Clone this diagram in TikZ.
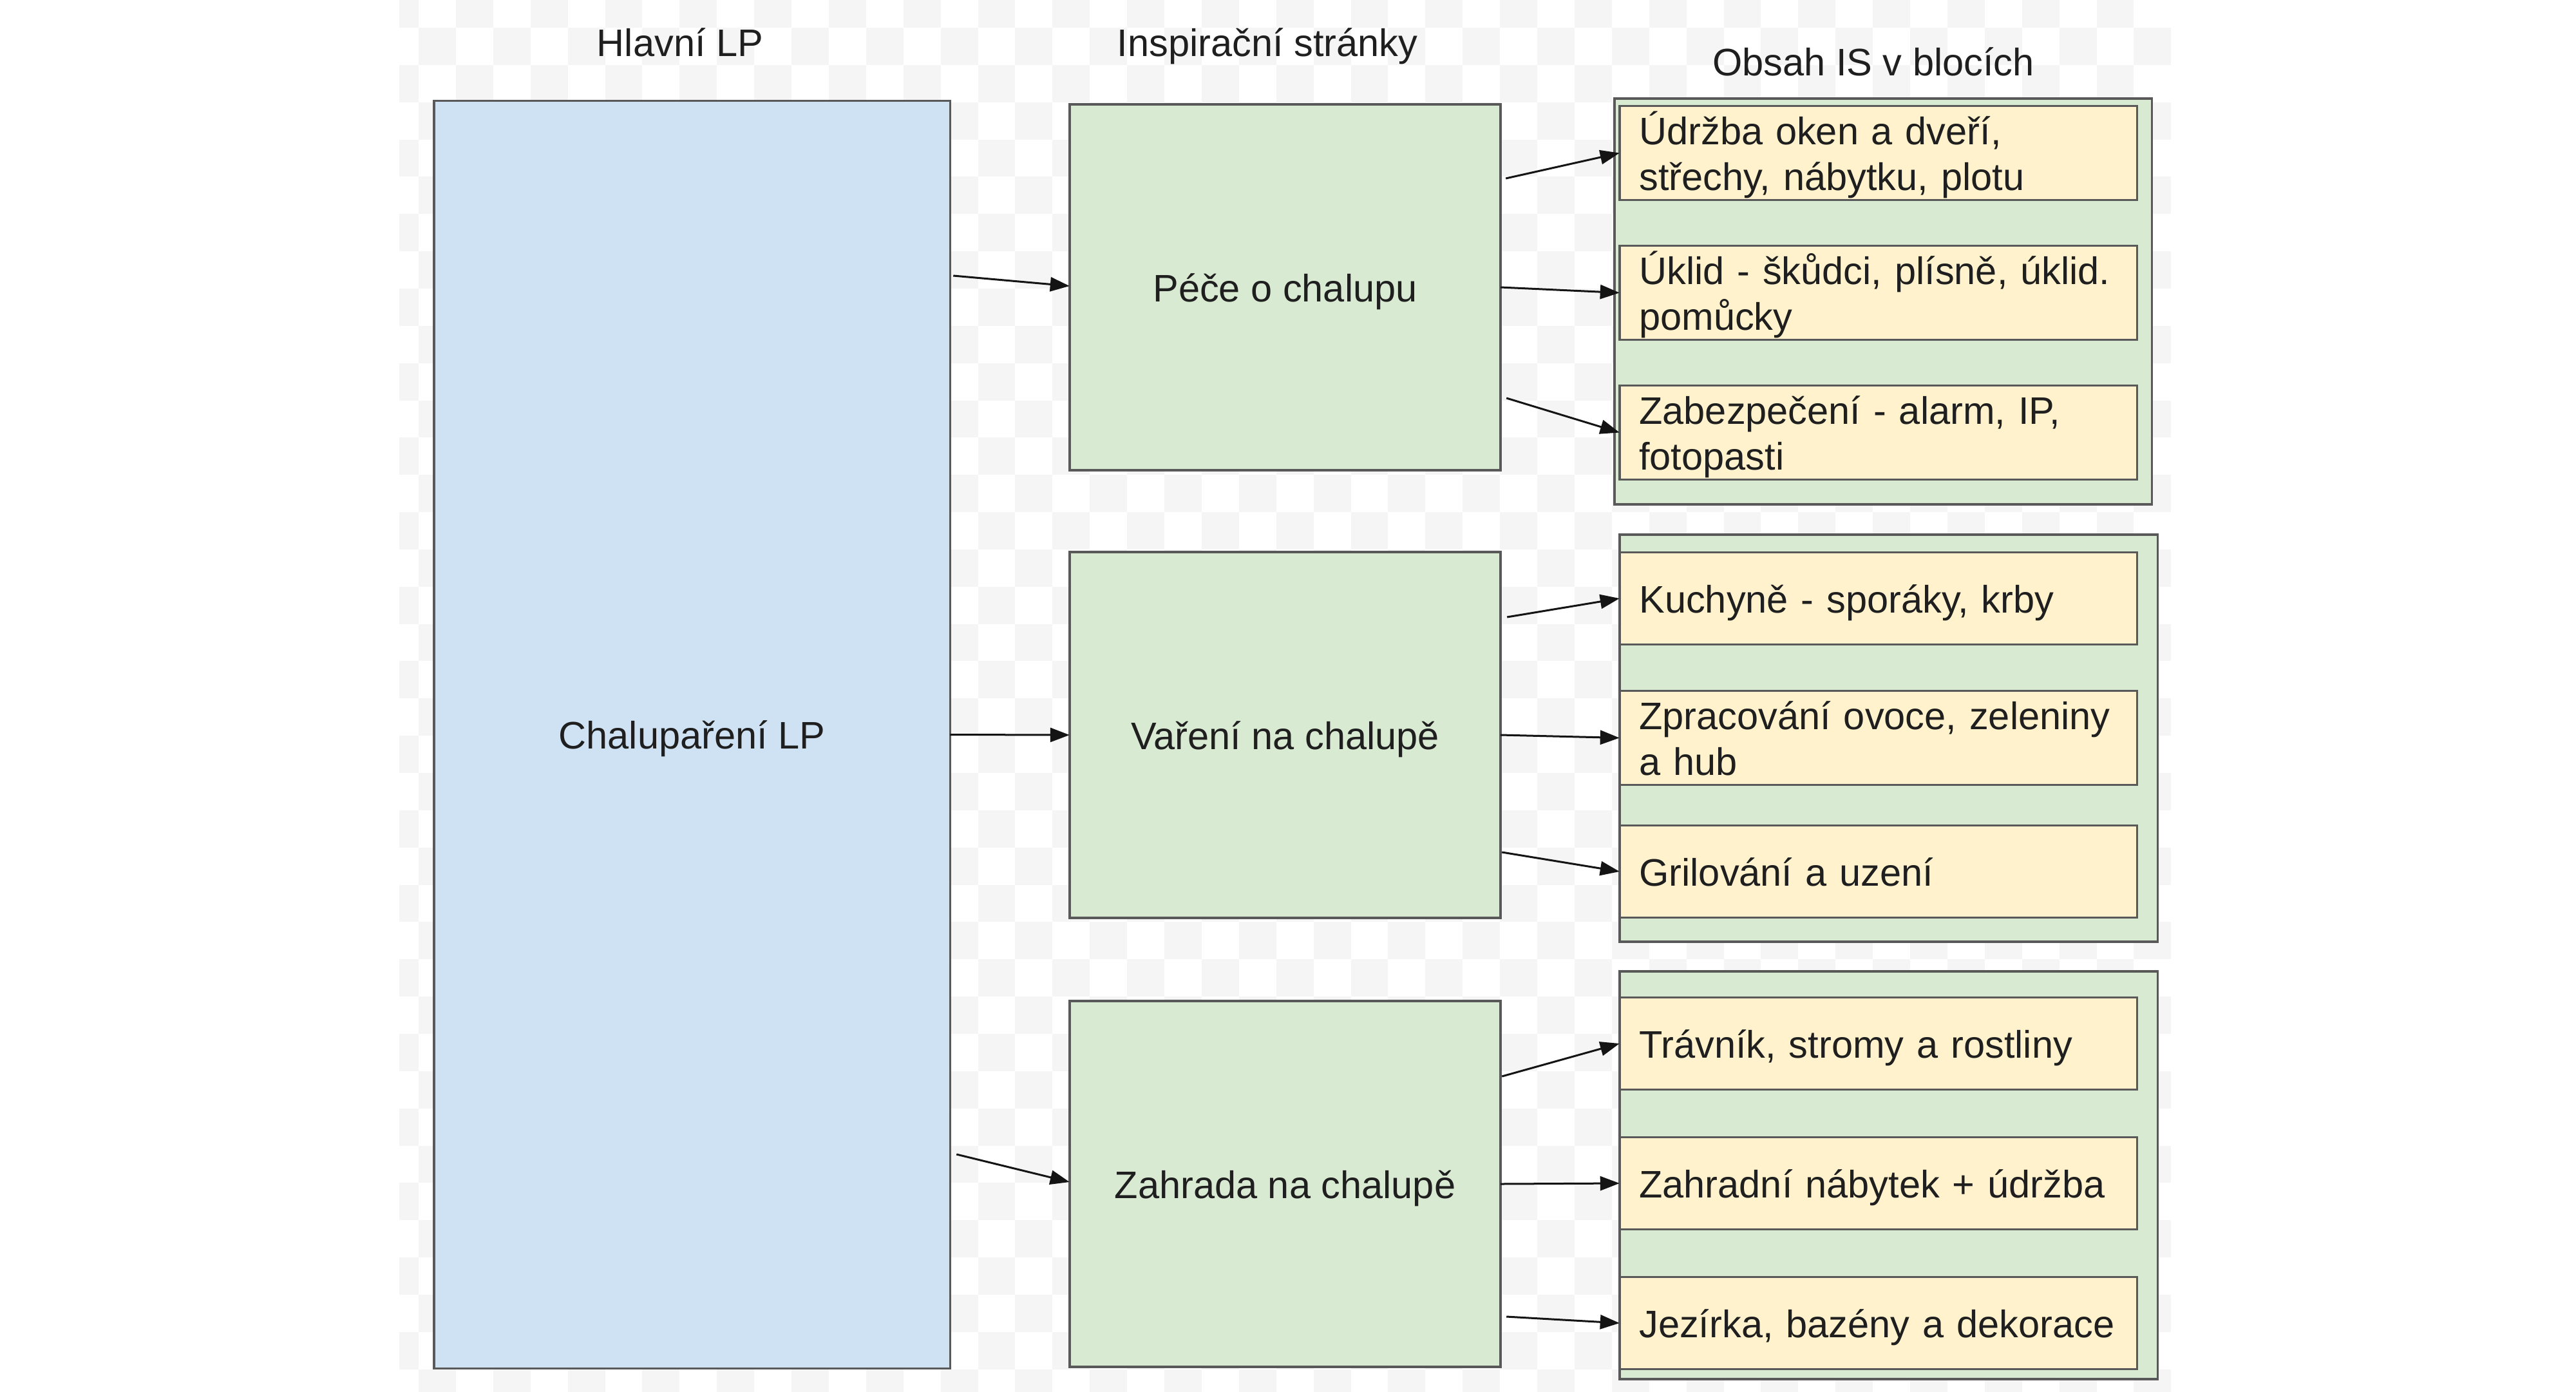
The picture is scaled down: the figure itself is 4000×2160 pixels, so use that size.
\documentclass[tikz,border=0pt]{standalone}
\usepackage{fontspec}
\setmainfont{Liberation Sans}
\usetikzlibrary{arrows.meta}
\definecolor{bluefill}{HTML}{CFE2F3}
\definecolor{greenfill}{HTML}{D9EAD3}
\definecolor{yellowfill}{HTML}{FFF2CC}
\definecolor{edgecol}{HTML}{595959}
\definecolor{chk}{HTML}{F5F5F5}
\definecolor{txt}{HTML}{1F1F1F}
\definecolor{arrcol}{HTML}{141414}
\begin{document}
\begin{tikzpicture}[x=0.01cm,y=-0.01cm,
  box/.style={draw=edgecol, line width=0.035cm, rectangle, inner sep=0pt, outer sep=0pt,
    font=\fontsize{16.93}{20.2}\selectfont, text=txt, text height=0.595cm, text depth=0.149cm},
  bigbox/.style={box, fill=bluefill, minimum width=8.01cm, minimum height=19.67cm},
  midbox/.style={box, fill=greenfill, minimum width=6.69cm, minimum height=5.68cm},
  groupbox/.style={box, fill=greenfill, minimum width=8.35cm, minimum height=6.32cm},
  itembox/.style={box, fill=yellowfill, minimum width=8.03cm, minimum height=1.43cm,
    text width=7.42cm, align=left},
  twoline/.style={text depth=0.86cm},
  coltitle/.style={anchor=base, inner sep=0pt, font=\fontsize{16.93}{20.2}\selectfont, text=txt},
  arr/.style={draw=arrcol, line width=0.03cm, -{Triangle[length=0.3cm,width=0.22cm]}}]

\useasboundingbox (0,0) rectangle (4000,2160);
\fill[white] (0,0) rectangle (4000,2160);

% faint checker background
\begin{scope}
  \clip (620,0) rectangle (3371,2160);
  \foreach \k in {-1,...,46}{
    \foreach \j in {-1,...,37}{
      \pgfmathtruncatemacro{\chkpar}{mod(\k+\j+2,2)}
      \ifnum\chkpar=0
        \fill[chk] ({650+57.9*\k},{43+57.85*\j}) rectangle ++(57.9,57.85);
      \fi
    }
  }
\end{scope}

% column titles
\node[coltitle] (t1) at (1056,87) {Hlavní LP};
\node[coltitle] (t2) at (1968,87) {Inspirační stránky};
\node[coltitle] (t3) at (2909,117) {Obsah IS v blocích};

% main box
\node[bigbox] (lp) at (1074.5,1140.5) {Chalupaření LP};

% middle boxes
\node[midbox] (g1) at (1995.5,446) {Péče o chalupu};
\node[midbox] (g2) at (1995.5,1141) {Vaření na chalupě};
\node[midbox] (g3) at (1995.5,1838) {Zahrada na chalupě};

% group containers
\node[groupbox, minimum width=8.34cm, minimum height=6.30cm] (c1) at (2924,468) {};
\node[groupbox] (c2) at (2932.5,1146) {};
\node[groupbox, minimum height=6.33cm] (c3) at (2932.5,1824.5) {};

% content blocks
\node[itembox, twoline] (y11) at (2916.5,237.5) {Údržba oken a dveří, střechy, nábytku, plotu};
\node[itembox, twoline] (y12) at (2916.5,454.5) {Úklid - škůdci, plísně, úklid. pomůcky};
\node[itembox, twoline] (y13) at (2916.5,671.5) {Zabezpečení - alarm, IP, fotopasti};

\node[itembox] (y21) at (2916.5,929) {Kuchyně - sporáky, krby};
\node[itembox, twoline] (y22) at (2916.5,1145.5) {Zpracování ovoce, zeleniny a hub};
\node[itembox] (y23) at (2916.5,1353) {Grilování a uzení};

\node[itembox] (y31) at (2916.5,1620) {Trávník, stromy a rostliny};
\node[itembox] (y32) at (2916.5,1837) {Zahradní nábytek + údržba};
\node[itembox] (y33) at (2916.5,2054) {Jezírka, bazény a dekorace};

% connectors main -> middle
\draw[arr] ([shift={(5,-712.5)}]lp.east) -- ([shift={(0,-2)}]g1.west);
\draw[arr] (lp.east) -- (g2.west);
\draw[arr] ([shift={(10,651.5)}]lp.east) -- ([shift={(0,-3)}]g3.west);

% connectors middle -> blocks
\draw[arr] ([shift={(8,-169)}]g1.east) -- (y11.west);
\draw[arr] (g1.east) -- (y12.west);
\draw[arr] ([shift={(9,172)}]g1.east) -- (y13.west);

\draw[arr] ([shift={(10,-183)}]g2.east) -- (y21.west);
\draw[arr] (g2.east) -- (y22.west);
\draw[arr] ([shift={(2,182)}]g2.east) -- (y23.west);

\draw[arr] ([shift={(2,-167)}]g3.east) -- (y31.west);
\draw[arr] (g3.east) -- (y32.west);
\draw[arr] ([shift={(9,206)}]g3.east) -- (y33.west);

\end{tikzpicture}
\end{document}
